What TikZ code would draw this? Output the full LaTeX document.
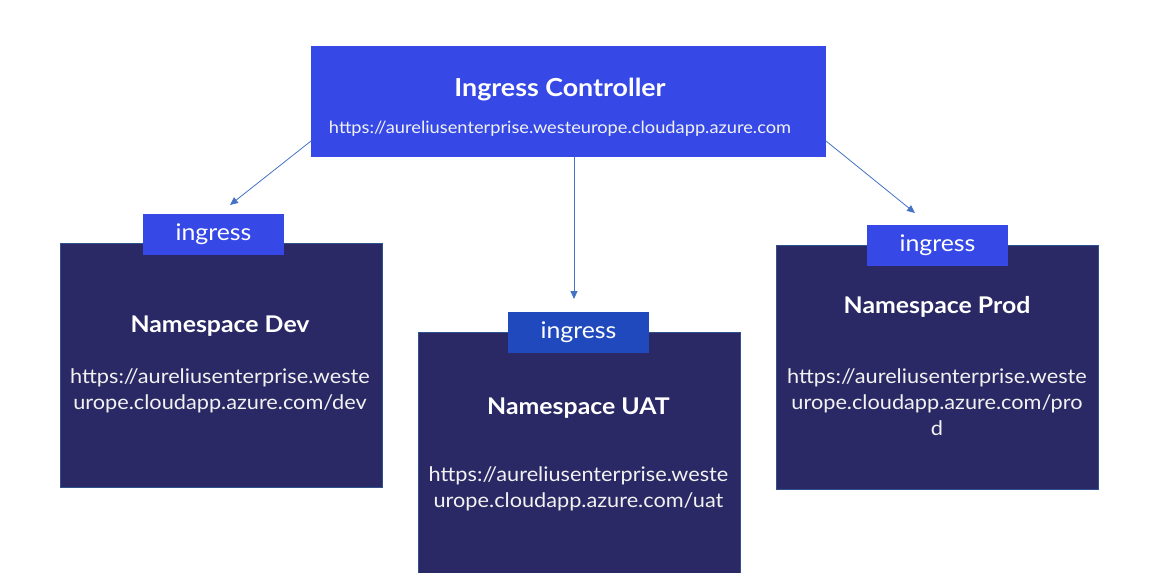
\documentclass[tikz,border=0pt]{standalone}
\usepackage{fontspec}
\setmainfont[FakeStretch=1.08]{Lato}
\usetikzlibrary{arrows.meta}
\definecolor{ctrlblue}{HTML}{3649E6}
\definecolor{uatblue}{HTML}{2049BD}
\definecolor{nsfill}{HTML}{2A2966}
\definecolor{nsborder}{HTML}{2F528F}
\definecolor{arrowblue}{HTML}{4472C4}
\definecolor{urlwhite}{HTML}{F2F2F2}
\tikzset{
  ctrlbox/.style={fill=ctrlblue, draw=none, inner sep=0pt},
  nsbox/.style={fill=nsfill, draw=nsborder, line width=0.8pt, inner sep=0pt, minimum width=322pt, minimum height=244pt},
  ingbox/.style={fill=ctrlblue, draw=none, inner sep=0pt, minimum width=141pt, minimum height=41pt, text=white, font=\fontsize{23}{26}\selectfont},
  titletext/.style={text=white, inner sep=0pt, font=\bfseries\fontsize{23}{26}\selectfont},
  urltext/.style={text=urlwhite, inner sep=0pt, align=center, font=\fontsize{20.1}{26}\selectfont},
  conn/.style={draw=arrowblue, line width=0.8pt, -{Triangle[length=8pt,width=7pt]}}
}
\begin{document}
\begin{tikzpicture}[x=1pt,y=-1pt]
\useasboundingbox (0,0) rectangle (1157,573);
\fill[white] (0,0) rectangle (1157,573);

% controller
\node[ctrlbox, minimum width=515pt, minimum height=111pt] (ctrl) at (568.5,101.5) {};
\node[text=white, inner sep=0pt, font=\bfseries\fontsize{24.8}{28}\selectfont] (ctrltitle) at (560,90) {Ingress Controller};
\node[text=urlwhite, inner sep=0pt, font=\fontsize{16.9}{20}\selectfont] (ctrlurl) at (560,129) {https://aureliusenterprise.westeurope.cloudapp.azure.com};

% namespace boxes
\node[nsbox] (dev) at (221,365) {};
\node[nsbox, minimum height=246pt] (uat) at (579,455) {};
\node[nsbox] (prod) at (937.5,367) {};

% ingress labels
\node[ingbox] (ingdev) at (213.5,234) {ingress};
\node[ingbox, fill=uatblue] (inguat) at (578.5,332.5) {ingress};
\node[ingbox] (ingprod) at (937.5,245.5) {ingress};

% namespace texts
\node[titletext] (devtitle) at (220,326) {Namespace Dev};
\node[urltext] (devurl) at (220,391) {https://aureliusenterprise.weste\\urope.cloudapp.azure.com/dev};

\node[titletext] (uattitle) at (578.5,408) {Namespace UAT};
\node[urltext] (uaturl) at (578.5,489) {https://aureliusenterprise.weste\\urope.cloudapp.azure.com/uat};

\node[titletext] (prodtitle) at (937,307) {Namespace Prod};
\node[urltext] (produrl) at (937,402) {https://aureliusenterprise.weste\\urope.cloudapp.azure.com/pro\\d};

% connectors
\coordinate (cl) at (311,141);
\coordinate (cm) at (574,157);
\coordinate (cr) at (826,141);
\coordinate (el) at (230,205);
\coordinate (em) at (574,299);
\coordinate (er) at (915,213);
\draw[conn] (cl) -- (el);
\draw[conn] (cm) -- (em);
\draw[conn] (cr) -- (er);
\end{tikzpicture}
\end{document}
